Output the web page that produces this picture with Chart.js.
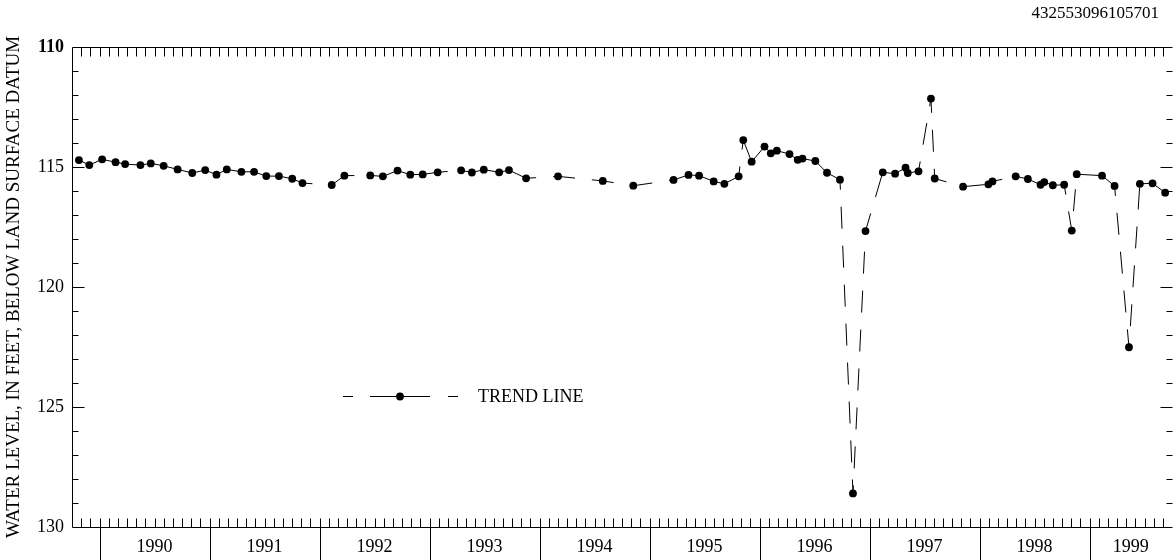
<!DOCTYPE html>
<html>
<head>
<meta charset="utf-8">
<script src="https://cdn.jsdelivr.net/npm/chart.js@4"></script>
<style>
  html, body { margin: 0; padding: 0; background: #fff; }
  #c { display: block; }
</style>
</head>
<body>
<canvas id="c" width="1176" height="560"></canvas>
<script>
// ---- data (time as decimal year, water level in feet below land surface) ----
const siteId = '432553096105701';
const yTitle = 'WATER LEVEL, IN FEET, BELOW LAND SURFACE DATUM';
const legendLabel = 'TREND LINE';
const years = ['1990','1991','1992','1993','1994','1995','1996','1997','1998','1999'];
const axisStart = 1989.75;
const axisEnd = 1999.75;
const levelMin = 110;
const levelMax = 130;

const times = [
  1989.813, 1989.907, 1990.024, 1990.146, 1990.233, 1990.372, 1990.466, 1990.583, 1990.710, 1990.843,
  1990.961, 1991.063, 1991.157, 1991.290, 1991.405, 1991.516, 1991.631, 1991.752, 1991.845, 1992.111,
  1992.226, 1992.461, 1992.576, 1992.709, 1992.825, 1992.938, 1993.074, 1993.287, 1993.385, 1993.493,
  1993.633, 1993.722, 1993.878, 1994.168, 1994.575, 1994.852, 1995.218, 1995.354, 1995.450, 1995.583,
  1995.680, 1995.810, 1995.852, 1995.928, 1996.045, 1996.102, 1996.157, 1996.272, 1996.347, 1996.390,
  1996.507, 1996.613, 1996.731, 1996.849, 1996.963, 1997.120, 1997.232, 1997.327, 1997.347, 1997.445,
  1997.558, 1997.592, 1997.850, 1998.080, 1998.117, 1998.328, 1998.439, 1998.554, 1998.588, 1998.666,
  1998.769, 1998.838, 1998.883, 1999.113, 1999.227, 1999.358, 1999.457, 1999.572, 1999.687
];
const levels = [
  114.71, 114.92, 114.68, 114.80, 114.88, 114.92, 114.85, 114.95, 115.10, 115.25,
  115.13, 115.32, 115.10, 115.20, 115.20, 115.38, 115.38, 115.49, 115.67, 115.75,
  115.36, 115.35, 115.39, 115.15, 115.32, 115.31, 115.22, 115.14, 115.23, 115.11,
  115.22, 115.13, 115.47, 115.39, 115.58, 115.78, 115.54, 115.33, 115.36, 115.60,
  115.70, 115.39, 113.88, 114.78, 114.15, 114.43, 114.32, 114.46, 114.70, 114.65,
  114.75, 115.24, 115.53, 128.60, 117.67, 115.22, 115.28, 115.03, 115.25, 115.18,
  112.15, 115.48, 115.82, 115.72, 115.60, 115.39, 115.50, 115.74, 115.63, 115.76,
  115.74, 117.65, 115.30, 115.36, 115.79, 122.51, 115.70, 115.68, 116.07
];

// ---- derived ----
const points = times.map((t, i) => ({ x: t, y: levels[i] }));
const yearStarts = years.map(y => Number(y));
const yearCenters = yearStarts.map(y => (Math.max(y, axisStart) + Math.min(y + 1, axisEnd)) / 2);

const FONT = '"Liberation Serif", "Times New Roman", Times, serif';
const DASH = [22, 17];

// a segment is part of the dashed trend line when the gap in time or level is large
function isTrendSegment(ctx) {
  const a = ctx.p0.parsed, b = ctx.p1.parsed;
  return (b.x - a.x) > 0.2 || Math.abs(b.y - a.y) > 1.2;
}

const framePlugin = {
  id: 'frame',
  afterDraw(chart) {
    const { ctx, chartArea: ca, scales: { x, y } } = chart;
    ctx.save();
    ctx.strokeStyle = '#000';
    ctx.lineWidth = 1;
    const L = Math.round(ca.left) + 0.5, R = Math.round(ca.right) + 0.5;
    const T = Math.round(ca.top) + 0.5, B = Math.round(ca.bottom) + 0.5;
    ctx.beginPath();
    ctx.moveTo(L, T); ctx.lineTo(R, T);
    ctx.moveTo(L, B); ctx.lineTo(R, B);
    ctx.moveTo(L, T); ctx.lineTo(L, B);
    ctx.stroke();

    ctx.beginPath();
    // monthly ticks, top and bottom, pointing inward
    const nMonths = Math.round((axisEnd - axisStart) * 12);
    for (let k = 1; k < nMonths; k++) {
      const px = Math.round(x.getPixelForValue(axisStart + k / 12)) + 0.5;
      ctx.moveTo(px, T); ctx.lineTo(px, T + 9);
      ctx.moveTo(px, B); ctx.lineTo(px, B - 9);
    }
    // year boundaries extend below the axis
    yearStarts.forEach(ys => {
      if (ys <= axisStart || ys >= axisEnd) return;
      const px = Math.round(x.getPixelForValue(ys)) + 0.5;
      ctx.moveTo(px, B); ctx.lineTo(px, chart.height);
    });
    // level ticks, left and right
    for (let v = levelMin + 1; v < levelMax; v++) {
      const py = Math.round(y.getPixelForValue(v)) + 0.5;
      const len = (v % 5 === 0) ? 12 : 6;
      ctx.moveTo(L, py); ctx.lineTo(L + len, py);
      ctx.moveTo(R, py); ctx.lineTo(R - len, py);
    }
    ctx.stroke();

    // site identifier
    ctx.fillStyle = '#000';
    ctx.font = '17px ' + FONT;
    ctx.textAlign = 'right';
    ctx.textBaseline = 'alphabetic';
    ctx.fillText(siteId, 1159, 18);

    // legend
    const ly = 396.5;
    ctx.beginPath();
    ctx.moveTo(343, ly); ctx.lineTo(353, ly);
    ctx.moveTo(370, ly); ctx.lineTo(430, ly);
    ctx.moveTo(448, ly); ctx.lineTo(458, ly);
    ctx.stroke();
    ctx.beginPath();
    ctx.arc(400, ly, 3.9, 0, Math.PI * 2);
    ctx.fill();
    ctx.textAlign = 'left';
    ctx.font = '18px ' + FONT;
    ctx.fillText(legendLabel, 478, 402);
    ctx.restore();
  }
};

new Chart(document.getElementById('c'), {
  type: 'line',
  data: {
    datasets: [{
      data: points,
      borderColor: '#000',
      borderWidth: 1,
      pointRadius: 3.9,
      pointHoverRadius: 3.9,
      pointBackgroundColor: '#000',
      pointBorderWidth: 0,
      tension: 0,
      fill: false,
      segment: {
        borderDash: ctx => isTrendSegment(ctx) ? DASH : undefined,
        borderDashOffset: ctx => isTrendSegment(ctx) ? 12 : 0
      }
    }]
  },
  options: {
    responsive: false,
    animation: false,
    events: [],
    layout: { padding: { top: 47, right: 1, left: 0, bottom: 0 } },
    plugins: { legend: { display: false }, tooltip: { enabled: false }, title: { display: false } },
    scales: {
      x: {
        type: 'linear',
        min: axisStart,
        max: axisEnd,
        grid: { display: false, drawTicks: false },
        border: { display: false },
        afterBuildTicks: s => { s.ticks = yearCenters.map(v => ({ value: v })); },
        afterFit: s => { s.height = 33; },
        ticks: {
          autoSkip: false,
          maxRotation: 0,
          padding: 9,
          color: '#000',
          font: { family: FONT, size: 18 },
          callback: (value) => {
            const i = yearCenters.findIndex(c => Math.abs(c - value) < 1e-6);
            return i >= 0 ? years[i] : '';
          }
        }
      },
      y: {
        type: 'linear',
        reverse: true,
        min: levelMin,
        max: levelMax,
        grid: { display: false, drawTicks: false },
        border: { display: false },
        afterFit: s => { s.width = 72; },
        ticks: {
          stepSize: 5,
          padding: 8,
          color: '#000',
          font: ctx => ({ family: FONT, size: 18, weight: (ctx.tick && ctx.tick.value === 110) ? 'bold' : 'normal' })
        },
        title: {
          display: true,
          text: yTitle,
          color: '#000',
          font: { family: FONT, size: 19 },
          padding: { top: 3, bottom: 0 }
        }
      }
    }
  },
  plugins: [framePlugin]
});
</script>
</body>
</html>
